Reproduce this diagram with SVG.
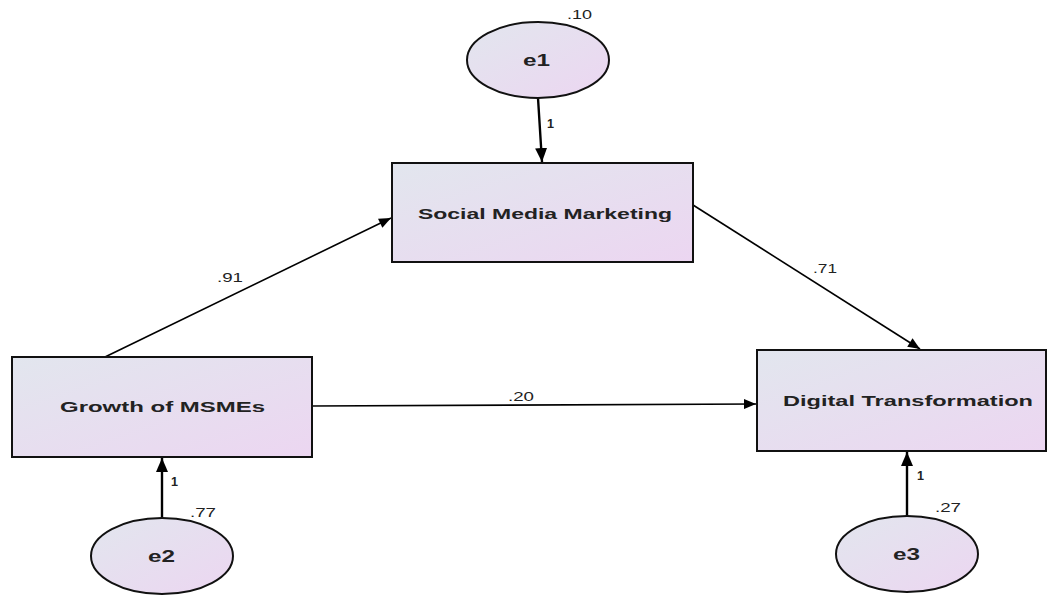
<svg xmlns="http://www.w3.org/2000/svg" width="1047" height="596" viewBox="0 0 1047 596">
<defs>
<linearGradient id="g" x1="0" y1="0" x2="1" y2="1">
<stop offset="0" stop-color="#e2e6ee"/>
<stop offset="1" stop-color="#ecd6f1"/>
</linearGradient>
<marker id="ah" viewBox="0 0 12 10" refX="12" refY="5" markerWidth="13" markerHeight="10" markerUnits="userSpaceOnUse" orient="auto">
<path d="M0,0 L12,5 L0,10 Z" fill="#000"/>
</marker>
<marker id="ah2" viewBox="0 0 14 12" refX="14" refY="6" markerWidth="14" markerHeight="12" markerUnits="userSpaceOnUse" orient="auto">
<path d="M0,0 L14,6 L0,12 Z" fill="#000"/>
</marker>
</defs>
<style>
.box{fill:url(#g);stroke:#111;stroke-width:2}
.lbl{font-family:"Liberation Sans",Arial,sans-serif;font-weight:bold;font-size:15px;fill:#222}
.el{font-family:"Liberation Sans",Arial,sans-serif;font-weight:bold;font-size:17px;fill:#222}
.num{font-family:"Liberation Sans",Arial,sans-serif;font-size:12.5px;fill:#222}
.one{font-family:"Liberation Sans",Arial,sans-serif;font-weight:bold;font-size:12px;fill:#222}
.c{stroke:#000;stroke-width:1.6;fill:none;marker-end:url(#ah)}
.ce{stroke:#000;stroke-width:2.4;fill:none;marker-end:url(#ah2)}
</style>
<rect width="1047" height="596" fill="#fff"/>
<g id="connectors">
<line class="ce" x1="538" y1="98" x2="542" y2="162"/>
<line class="c" x1="105" y1="357" x2="391" y2="218"/>
<line class="c" x1="693" y1="205" x2="920" y2="349"/>
<line class="c" x1="312" y1="406" x2="756" y2="404"/>
<line class="ce" x1="162" y1="518" x2="162" y2="458"/>
<line class="ce" x1="907" y1="516" x2="907" y2="452"/>
<text class="one" x="547" y="128" textLength="7" lengthAdjust="spacingAndGlyphs">1</text>
<text class="num" x="217" y="282" textLength="26" lengthAdjust="spacingAndGlyphs">.91</text>
<text class="num" x="813" y="273" textLength="24" lengthAdjust="spacingAndGlyphs">.71</text>
<text class="num" x="508" y="401" textLength="26" lengthAdjust="spacingAndGlyphs">.20</text>
<text class="one" x="171" y="486" textLength="7" lengthAdjust="spacingAndGlyphs">1</text>
<text class="one" x="917" y="480" textLength="7" lengthAdjust="spacingAndGlyphs">1</text>
</g>
<g id="e1">
<ellipse class="box" cx="538" cy="60" rx="71" ry="38"/>
<text class="el" x="523" y="66" textLength="27" lengthAdjust="spacingAndGlyphs">e1</text>
<text class="num" x="567" y="19" textLength="25" lengthAdjust="spacingAndGlyphs">.10</text>
</g>
<g id="smm">
<rect class="box" x="392" y="163" width="301" height="99"/>
<text class="lbl" x="418" y="219" textLength="254" lengthAdjust="spacingAndGlyphs">Social Media Marketing</text>
</g>
<g id="growth">
<rect class="box" x="12" y="357" width="300" height="100"/>
<text class="lbl" x="60" y="412" textLength="205" lengthAdjust="spacingAndGlyphs">Growth of MSMEs</text>
</g>
<g id="dt">
<rect class="box" x="757" y="350" width="289" height="101"/>
<text class="lbl" x="783" y="406" textLength="250" lengthAdjust="spacingAndGlyphs">Digital Transformation</text>
</g>
<g id="e2">
<ellipse class="box" cx="162" cy="556" rx="71" ry="38"/>
<text class="el" x="148" y="562" textLength="27" lengthAdjust="spacingAndGlyphs">e2</text>
<text class="num" x="190" y="517" textLength="26" lengthAdjust="spacingAndGlyphs">.77</text>
</g>
<g id="e3">
<ellipse class="box" cx="907" cy="554" rx="71" ry="38"/>
<text class="el" x="893" y="560" textLength="27" lengthAdjust="spacingAndGlyphs">e3</text>
<text class="num" x="935" y="512" textLength="26" lengthAdjust="spacingAndGlyphs">.27</text>
</g>
</svg>
